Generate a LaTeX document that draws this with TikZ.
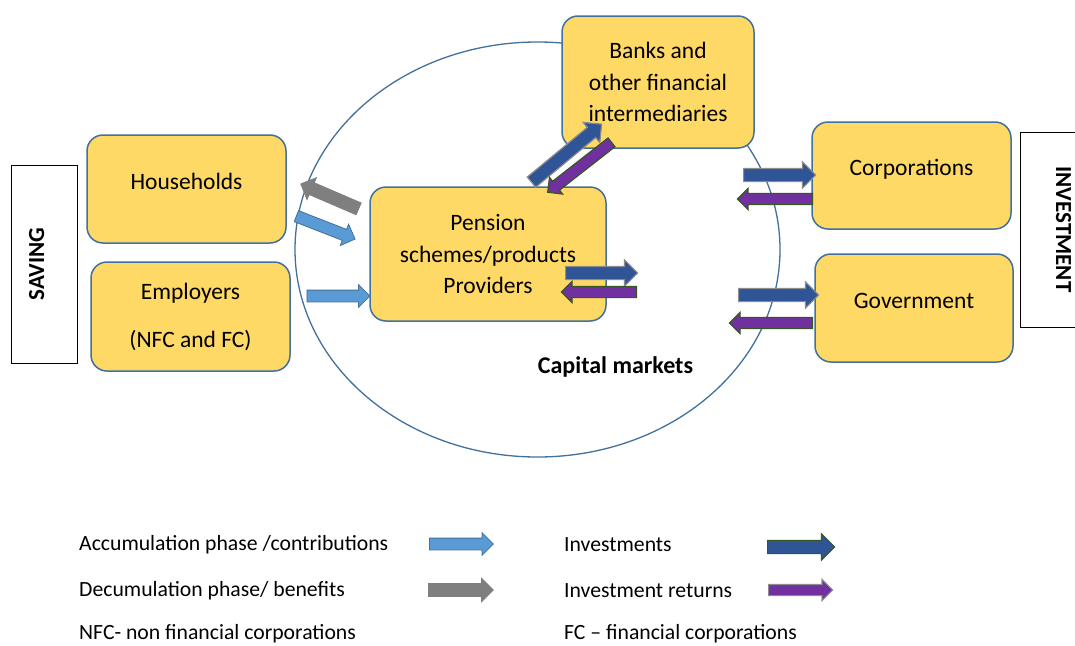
\documentclass[tikz,border=0pt]{standalone}
\usepackage{fontspec}
\setmainfont{Carlito}
\usepackage{xcolor}
\usepackage{tikz}
\usetikzlibrary{shapes.arrows,shapes.geometric}

\definecolor{boxfill}{HTML}{FFD966}
\definecolor{boxline}{HTML}{41719C}
\definecolor{accfill}{HTML}{5B9BD5}
\definecolor{decfill}{HTML}{7F7F7F}
\definecolor{invfill}{HTML}{2F5597}
\definecolor{invline}{HTML}{8C8C8C}
\definecolor{retfill}{HTML}{7030A0}
\definecolor{retline}{HTML}{375623}

\tikzset{
	sector/.style={draw=boxline, fill=boxfill, line width=1.5pt, rounded corners=16pt,
		inner sep=0pt, align=center, font=\fontsize{23.5}{31.5}\selectfont},
	oneline/.style={text height=17pt, text depth=17pt},
	side/.style={draw, line width=0.8pt, inner sep=0pt, oneline,
		font=\fontsize{23}{28}\selectfont\bfseries},
	flow/.style={single arrow, anchor=tail, single arrow head extend=5.5pt, inner sep=6pt, line width=1.2pt},
	accflow/.style={flow, fill=accfill, draw=boxline, line width=0.8pt, inner sep=5.5pt},
	decflow/.style={flow, fill=decfill, draw=decfill, line width=0.8pt},
	invflow/.style={flow, fill=invfill, draw=invline, single arrow head extend=6.5pt},
	retflow/.style={flow, fill=retfill, draw=retline, inner sep=5pt, single arrow head extend=5pt},
	legend/.style={anchor=west, inner sep=0pt, font=\fontsize{21.7}{26}\selectfont},
}

\begin{document}
\begin{tikzpicture}[x=1pt,y=-1pt]
	\useasboundingbox[fill=white] (0,0) rectangle (1075,645);
	%
	\node[draw=boxline, line width=1.3pt, ellipse, minimum width=485pt, minimum height=415pt] (capital) at (537.5,249.5) {};
	\node[font=\fontsize{24}{28}\selectfont\bfseries] (capitalText) at (615.5,367) {Capital markets};
	%
	\node[side, rotate=90, minimum width=198pt, minimum height=66pt] (saving) at (44,264) {SAVING};
	\node[side, rotate=-90, minimum width=195pt, minimum height=72pt] (investment) at (1056,229.5) {INVESTMENT};
	%
	\node[sector, oneline, minimum width=199pt, minimum height=108pt] (households) at (186.5,189) {Households};
	\node[sector, minimum width=199pt, minimum height=109pt] (employers) at (190.5,316.5) {Employers\\[16.5pt](NFC and FC)};
	\node[sector, minimum width=236pt, minimum height=134pt] (pension) at (488,254) {Pension\\schemes/products\\Providers};
	\node[sector, minimum width=192pt, minimum height=132pt] (banks) at (658,82) {Banks and\\other financial\\intermediaries};
	\node[sector, oneline, minimum width=199pt, minimum height=107pt] (corporations) at (911.5,175.5) {Corporations};
	\node[sector, oneline, minimum width=198pt, minimum height=108pt] (government) at (914,308) {Government};
	%
	\node[decflow, rotate=156.7, minimum height=63pt] (hhBack) at (359,209) {};
	\node[accflow, rotate=-21.3, minimum height=63pt] (hhIn) at (296,216) {};
	\node[accflow, minimum height=63pt] (empIn) at (306.5,296) {};
	\node[invflow, rotate=39.6, minimum height=91pt] (bankOut) at (531,182.5) {};
	\node[retflow, rotate=218, minimum height=81pt] (bankBack) at (612,142) {};
	\node[invflow, minimum height=72pt] (marketOut) at (565,273) {};
	\node[retflow, rotate=180, minimum height=75pt] (marketBack) at (637,292) {};
	\node[invflow, minimum height=72pt] (corpOut) at (743,175) {};
	\node[retflow, rotate=180, minimum height=75pt] (corpBack) at (813,199) {};
	\node[invflow, minimum height=80pt] (govOut) at (738,295) {};
	\node[retflow, rotate=180, minimum height=83pt] (govBack) at (813,323) {};
	%
	\node[legend] (accText) at (79,545) {Accumulation phase /contributions};
	\node[accflow, minimum height=64pt] (accKey) at (429,544) {};
	\node[legend] (decText) at (79,591) {Decumulation phase/ benefits};
	\node[decflow, minimum height=65pt] (decKey) at (428,590) {};
	\node[legend] (nfcText) at (79,634) {NFC- non financial corporations};
	\node[legend] (invText) at (564,545) {Investments};
	\node[invflow, draw=retline, minimum height=67pt] (invKey) at (767,547) {};
	\node[legend] (retText) at (564,591) {Investment returns};
	\node[retflow, draw=invline, minimum height=64pt] (retKey) at (768,590) {};
	\node[legend] (fcText) at (564,634) {FC – financial corporations};
\end{tikzpicture}
\end{document}
